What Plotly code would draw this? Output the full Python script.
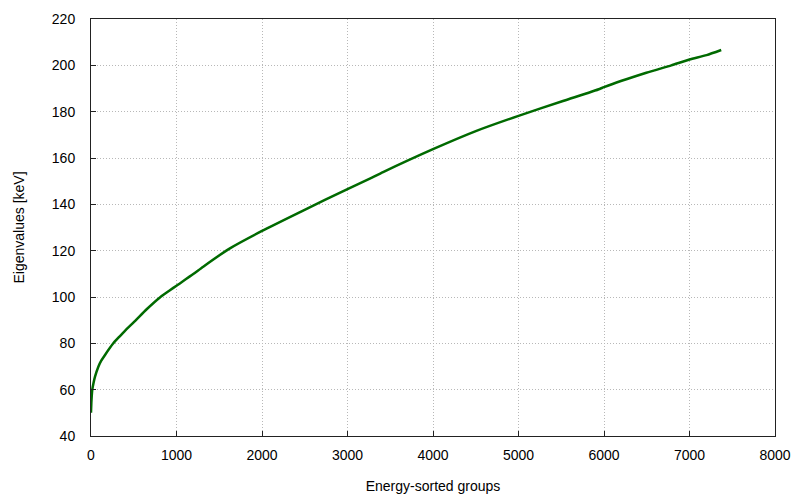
import plotly.graph_objects as go

# Energy-sorted group index and eigenvalue [keV]
groups = [0, 5, 15, 30, 47, 86, 120, 164, 261, 330, 397, 514, 651, 806, 923,
          1000, 1196, 1313, 1625, 2000, 2481, 3000, 3261, 3416, 4000, 4508,
          5000, 5520, 5949, 6000, 6495, 6787, 7000, 7200, 7371]
eigenvalues = [50.0, 55.0, 60.0, 63.0, 65.6, 69.9, 72.5, 75.0, 80.0, 82.8, 85.4,
               89.6, 94.7, 99.8, 102.9, 104.9, 109.9, 113.1, 121.0, 128.5,
               137.3, 146.6, 151.1, 153.9, 163.8, 171.7, 178.2, 184.6, 189.8,
               190.6, 196.8, 200.0, 202.5, 204.4, 206.6]

x_ticks = [0, 1000, 2000, 3000, 4000, 5000, 6000, 7000, 8000]
y_ticks = [40, 60, 80, 100, 120, 140, 160, 180, 200, 220]

fig = go.Figure()
fig.add_trace(go.Scatter(
    x=groups, y=eigenvalues, mode="lines",
    line=dict(color="#006a00", width=2.5, shape="spline", smoothing=0.6),
    showlegend=False,
))

font = dict(family="Liberation Sans, Arial, sans-serif", size=14, color="#000000")
axis_common = dict(
    showline=True, linecolor="#222222", linewidth=1, mirror=True,
    ticks="inside", ticklen=5, tickcolor="#222222", tickwidth=1,
    showgrid=True, gridcolor="#b8b8b8", gridwidth=1, griddash="1px,2px",
    zeroline=False, tickfont=font, automargin=False,
)

fig.update_layout(
    width=795, height=494,
    margin=dict(l=91, r=20, t=19, b=58),
    paper_bgcolor="white", plot_bgcolor="white",
    font=font,
    xaxis=dict(range=[0, 8000], tickvals=x_ticks,
               ticktext=[str(v) for v in x_ticks],
               title=dict(text="Energy-sorted groups", font=font, standoff=22),
               ticklabelstandoff=6, **axis_common),
    yaxis=dict(range=[40, 220], tickvals=y_ticks,
               ticktext=[str(v) for v in y_ticks],
               title=dict(text="Eigenvalues [keV]", font=font, standoff=23),
               ticklabelstandoff=12, **axis_common),
)

fig.write_html("out.html", config={"displayModeBar": False},
               post_script="document.body.style.margin='0';document.body.style.padding='0';")
